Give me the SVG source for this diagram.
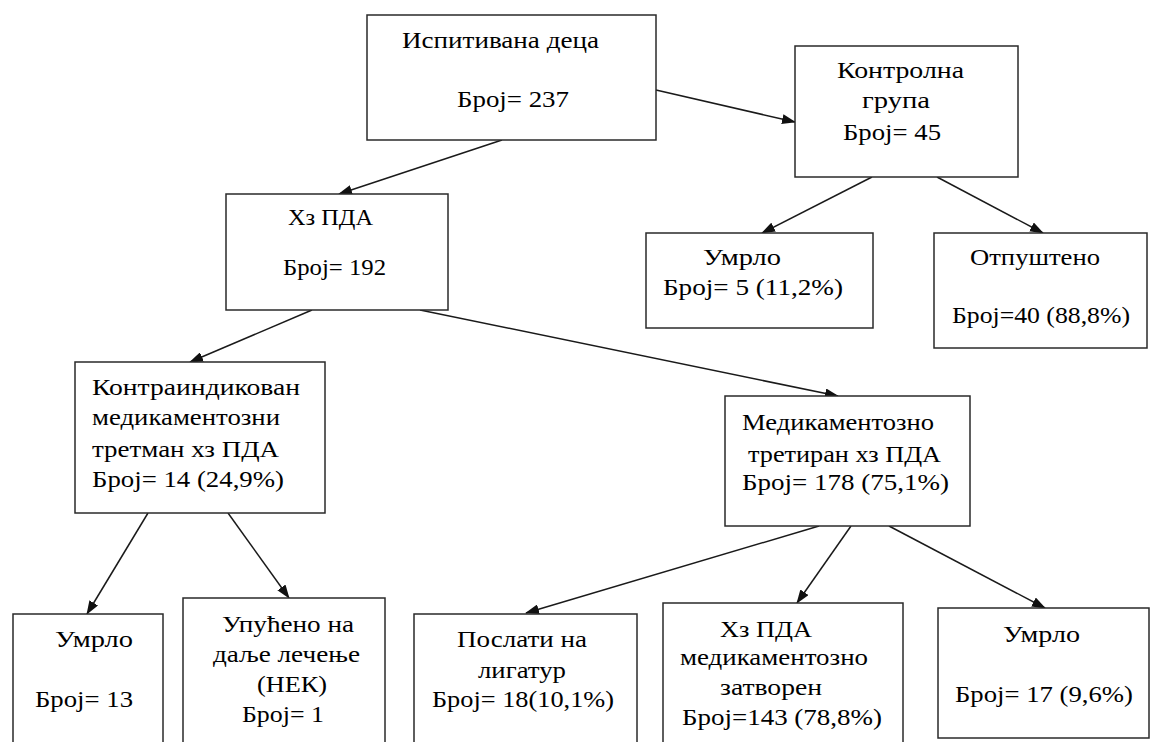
<svg xmlns="http://www.w3.org/2000/svg" width="1152" height="742" viewBox="0 0 1152 742">
<style>
.box{fill:#fff;stroke:#2a2a2a;stroke-width:1.5}
.t{font-family:"Liberation Serif","Times New Roman",serif;font-size:24px;fill:#000}
.c{stroke:#1a1a1a;stroke-width:1.5;fill:none;marker-end:url(#ah)}
</style>
<defs>
<marker id="ah" markerUnits="userSpaceOnUse" markerWidth="14" markerHeight="10" refX="13" refY="5" orient="auto">
<path d="M0,0 L14,5 L0,10 z" fill="#111"/>
</marker>
</defs>
<rect width="1152" height="742" fill="#fff"/>
<g id="connectors">
<line class="c" x1="502" y1="140" x2="339" y2="194"/>
<line class="c" x1="656" y1="90" x2="795" y2="122"/>
<line class="c" x1="872" y1="177" x2="762" y2="233"/>
<line class="c" x1="937" y1="177" x2="1043" y2="233"/>
<line class="c" x1="312" y1="310" x2="190" y2="362"/>
<line class="c" x1="420" y1="310" x2="838" y2="396"/>
<line class="c" x1="148" y1="513" x2="87" y2="614"/>
<line class="c" x1="228" y1="513" x2="289" y2="598"/>
<line class="c" x1="819" y1="526" x2="526" y2="613"/>
<line class="c" x1="851" y1="526" x2="797" y2="603"/>
<line class="c" x1="889" y1="526" x2="1045" y2="608"/>
</g>
<g id="n-ispitivana">
<rect class="box" x="367" y="15" width="289" height="125"/>
<text class="t" x="402" y="48" textLength="197" lengthAdjust="spacingAndGlyphs">Испитивана деца</text>
<text class="t" x="457" y="107" textLength="112" lengthAdjust="spacingAndGlyphs">Број= 237</text>
</g>
<g id="n-kontrolna">
<rect class="box" x="795" y="46" width="223" height="131"/>
<text class="t" x="837" y="78" textLength="127" lengthAdjust="spacingAndGlyphs">Контролна</text>
<text class="t" x="862" y="108" textLength="68" lengthAdjust="spacingAndGlyphs">група</text>
<text class="t" x="843" y="140" textLength="98" lengthAdjust="spacingAndGlyphs">Број= 45</text>
</g>
<g id="n-hzpda">
<rect class="box" x="226" y="194" width="222" height="116"/>
<text class="t" x="288" y="225" textLength="85" lengthAdjust="spacingAndGlyphs">Хз ПДА</text>
<text class="t" x="283" y="275" textLength="103" lengthAdjust="spacingAndGlyphs">Број= 192</text>
</g>
<g id="n-umrlo-k">
<rect class="box" x="646" y="233" width="227" height="95"/>
<text class="t" x="703" y="265" textLength="78" lengthAdjust="spacingAndGlyphs">Умрло</text>
<text class="t" x="663" y="295" textLength="180" lengthAdjust="spacingAndGlyphs">Број= 5 (11,2%)</text>
</g>
<g id="n-otpusteno">
<rect class="box" x="934" y="233" width="213" height="115"/>
<text class="t" x="970" y="265" textLength="130" lengthAdjust="spacingAndGlyphs">Отпуштено</text>
<text class="t" x="952" y="323" textLength="178" lengthAdjust="spacingAndGlyphs">Број=40 (88,8%)</text>
</g>
<g id="n-kontraindikovan">
<rect class="box" x="75" y="362" width="250" height="151"/>
<text class="t" x="92" y="395" textLength="208" lengthAdjust="spacingAndGlyphs">Контраиндикован</text>
<text class="t" x="92" y="425" textLength="188" lengthAdjust="spacingAndGlyphs">медикаментозни</text>
<text class="t" x="92" y="457" textLength="187" lengthAdjust="spacingAndGlyphs">третман хз ПДА</text>
<text class="t" x="92" y="487" textLength="192" lengthAdjust="spacingAndGlyphs">Број= 14 (24,9%)</text>
</g>
<g id="n-medikamentozno">
<rect class="box" x="725" y="396" width="245" height="130"/>
<text class="t" x="742" y="430" textLength="192" lengthAdjust="spacingAndGlyphs">Медикаментозно</text>
<text class="t" x="748" y="462" textLength="193" lengthAdjust="spacingAndGlyphs">третиран хз ПДА</text>
<text class="t" x="742" y="490" textLength="207" lengthAdjust="spacingAndGlyphs">Број= 178 (75,1%)</text>
</g>
<g id="n-umrlo-1">
<rect class="box" x="13" y="614" width="150" height="140"/>
<text class="t" x="55" y="647" textLength="78" lengthAdjust="spacingAndGlyphs">Умрло</text>
<text class="t" x="35" y="707" textLength="98" lengthAdjust="spacingAndGlyphs">Број= 13</text>
</g>
<g id="n-upuceno">
<rect class="box" x="183" y="598" width="202" height="156"/>
<text class="t" x="222" y="632" textLength="132" lengthAdjust="spacingAndGlyphs">Упућено  на</text>
<text class="t" x="213" y="662" textLength="147" lengthAdjust="spacingAndGlyphs">даље лечење</text>
<text class="t" x="257" y="692" textLength="70" lengthAdjust="spacingAndGlyphs">(НЕК)</text>
<text class="t" x="242" y="722" textLength="82" lengthAdjust="spacingAndGlyphs">Број= 1</text>
</g>
<g id="n-poslati">
<rect class="box" x="414" y="614" width="223" height="140"/>
<text class="t" x="457" y="647" textLength="130" lengthAdjust="spacingAndGlyphs">Послати на</text>
<text class="t" x="478" y="678" textLength="88" lengthAdjust="spacingAndGlyphs">лигатур</text>
<text class="t" x="432" y="707" textLength="182" lengthAdjust="spacingAndGlyphs">Број= 18(10,1%)</text>
</g>
<g id="n-zatvoren">
<rect class="box" x="663" y="603" width="240" height="151"/>
<text class="t" x="720" y="637" textLength="92" lengthAdjust="spacingAndGlyphs">Хз ПДА</text>
<text class="t" x="680" y="665" textLength="188" lengthAdjust="spacingAndGlyphs">медикаментозно</text>
<text class="t" x="720" y="695" textLength="102" lengthAdjust="spacingAndGlyphs">затворен</text>
<text class="t" x="682" y="725" textLength="200" lengthAdjust="spacingAndGlyphs">Број=143 (78,8%)</text>
</g>
<g id="n-umrlo-2">
<rect class="box" x="938" y="608" width="211" height="130"/>
<text class="t" x="1003" y="642" textLength="77" lengthAdjust="spacingAndGlyphs">Умрло</text>
<text class="t" x="955" y="702" textLength="178" lengthAdjust="spacingAndGlyphs">Број= 17 (9,6%)</text>
</g>
</svg>
